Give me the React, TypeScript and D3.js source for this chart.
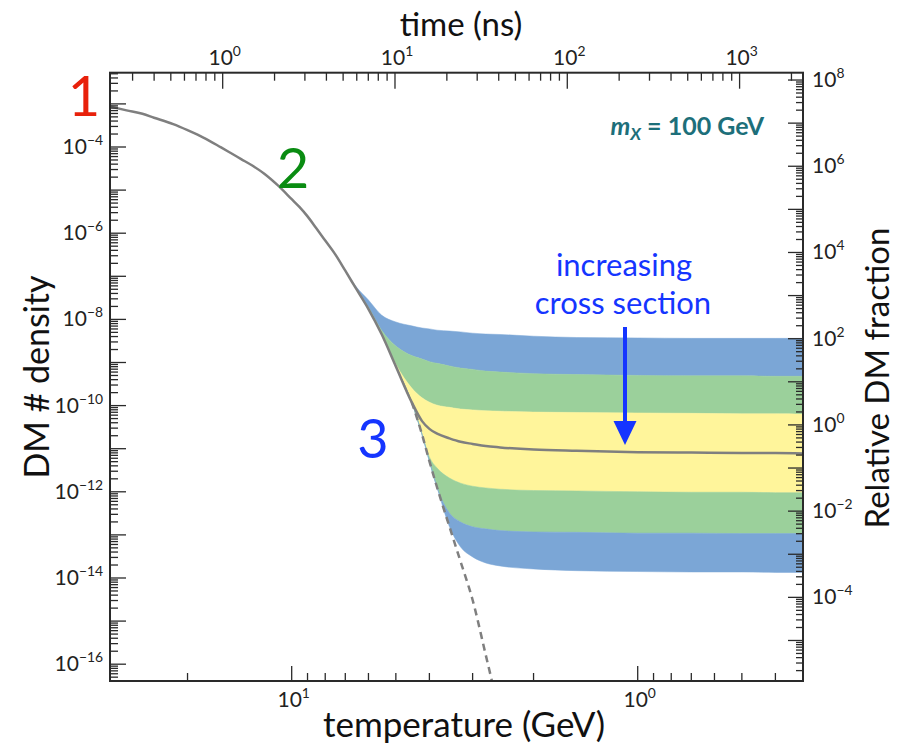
import * as d3 from "d3";

// temperature grid (GeV), read left to right off the bottom axis
const TEMP = [34, 30, 27, 25, 22, 20, 18, 16, 15, 14, 13, 12, 11, 10, 9.5, 9, 8.5, 8, 7.5, 7,
  6.5, 6, 5.5, 5, 4.5, 4.2, 4, 3.8, 3.5, 3.25, 3, 2.75, 2.5, 2, 1.5, 1, 0.7, 0.5, 0.4, 0.33];

// equilibrium density (log10), T = 34 .. 2.5
const EQUILIBRIUM = [-3.05, -3.15, -3.23, -3.32, -3.47, -3.61, -3.78, -4.01, -4.14, -4.28,
  -4.43, -4.62, -4.88, -5.21, -5.39, -5.61, -5.88, -6.17, -6.48, -6.87, -7.30, -7.76, -8.34,
  -9.09, -9.92, -10.67, -11.29, -11.90, -12.81, -13.62, -14.51, -15.78, -17.18];

// freeze-out curves (log10 density) for T = 7 .. 0.33, smallest to largest cross section
const TEMP_LATE = TEMP.slice(19);
const BLUE_TOP = [-6.87, -7.25, -7.55, -7.90, -8.06, -8.15, -8.20, -8.22, -8.25, -8.27, -8.29,
  -8.32, -8.34, -8.35, -8.39, -8.42, -8.43, -8.44, -8.44, -8.44, -8.44];
const BLUE_GREEN = [-6.87, -7.30, -7.72, -8.25, -8.62, -8.84, -8.92, -8.98, -9.02, -9.08, -9.13,
  -9.16, -9.20, -9.22, -9.26, -9.28, -9.30, -9.31, -9.31, -9.32, -9.32];
const GREEN_YELLOW = [-6.87, -7.30, -7.76, -8.34, -9.04, -9.59, -9.82, -9.92, -9.99, -10.04,
  -10.08, -10.10, -10.12, -10.13, -10.15, -10.16, -10.17, -10.18, -10.19, -10.19, -10.20];
const CENTRAL = [-6.87, -7.30, -7.76, -8.34, -9.09, -9.92, -10.36, -10.54, -10.65, -10.76,
  -10.84, -10.89, -10.94, -10.97, -11.02, -11.05, -11.08, -11.09, -11.10, -11.10, -11.11];
const YELLOW_GREEN = [-6.87, -7.30, -7.76, -8.34, -9.09, -9.92, -10.67, -11.19, -11.45, -11.68,
  -11.80, -11.87, -11.91, -11.94, -11.97, -11.98, -12.00, -12.01, -12.01, -12.02, -12.02];
const GREEN_BLUE = [-6.87, -7.30, -7.76, -8.34, -9.09, -9.92, -10.67, -11.29, -11.90, -12.49,
  -12.70, -12.81, -12.86, -12.90, -12.93, -12.94, -12.96, -12.96, -12.97, -12.97, -12.97];
const BLUE_BOTTOM = [-6.87, -7.30, -7.76, -8.34, -9.09, -9.92, -10.67, -11.29, -11.90, -12.81,
  -13.28, -13.51, -13.65, -13.72, -13.79, -13.83, -13.85, -13.86, -13.86, -13.87, -13.87];

// tick labels (exponents)
const DENSITY_LABELS = [-4, -6, -8, -10, -12, -14, -16];
const FRACTION_LABELS = [8, 6, 4, 2, 0, -2, -4];
const TEMP_LABELS = [1, 0];
const TIME_LABELS = [0, 1, 2, 3];

const FONT = "Lato, 'Open Sans', sans-serif";
const BLUE = "#7ba6d6";
const GREEN = "#9bd09b";
const YELLOW = "#fff59b";

function logTicks(domain: number[], maxValue = Infinity) {
  const [a, b] = d3.extent(domain) as [number, number];
  const out: { v: number; major: boolean }[] = [];
  for (let k = Math.floor(Math.log10(a)); k <= Math.ceil(Math.log10(b)); k++) {
    for (let m = 1; m <= 9; m++) {
      const v = m * Math.pow(10, k);
      if (v >= a && v <= b && v < maxValue) out.push({ v, major: m === 1 });
    }
  }
  return out;
}

function Pow({ x, y, exp, anchor, size = 21 }: { x: number; y: number; exp: number; anchor: string; size?: number }) {
  return (
    <text x={x} y={y} textAnchor={anchor} fontSize={size} fill="#222" fontFamily={FONT}>
      10<tspan dy={-9} fontSize={size * 0.66}>{exp < 0 ? "\u2212" + -exp : exp}</tspan>
    </text>
  );
}

export default function App() {
  const W = 900, H = 748;
  const L = 110, R = 803, T = 72.7, B = 681;

  const x = d3.scaleLog().domain([10 ** 1.5251, 10 ** -0.4777]).range([L, R]);
  const xTime = d3.scaleLog().domain([10 ** -0.654, 10 ** 3.368]).range([L, R]);
  const y = d3.scaleLog().domain([10 ** -16.39, 10 ** -2.276]).range([B, T]);
  const yRel = d3.scaleLog().domain([10 ** -5.94, 10 ** 8.17]).range([B, T]);

  const area = d3.area<number>()
    .x((_, i) => x(TEMP_LATE[i]))
    .curve(d3.curveMonotoneX);

  const band = (upper: number[], lower: number[]) =>
    area.y0((_, i) => y(10 ** lower[i])).y1((_, i) => y(10 ** upper[i]))(TEMP_LATE.map((_, i) => i)) || "";

  const line = d3.line<[number, number]>()
    .x(d => x(d[0]))
    .y(d => y(10 ** d[1]))
    .curve(d3.curveMonotoneX);

  const solidPts: [number, number][] = [
    ...TEMP.slice(0, 25).map((t, i) => [t, EQUILIBRIUM[i]] as [number, number]),
    ...TEMP_LATE.slice(6).map((t, i) => [t, CENTRAL[i + 6]] as [number, number]),
  ];
  const dashedPts: [number, number][] = TEMP.slice(24, 33).map((t, i) => [t, EQUILIBRIUM[i + 24]]);

  const bands = [
    [BLUE_TOP, BLUE_GREEN, BLUE],
    [BLUE_GREEN, GREEN_YELLOW, GREEN],
    [GREEN_YELLOW, YELLOW_GREEN, YELLOW],
    [YELLOW_GREEN, GREEN_BLUE, GREEN],
    [GREEN_BLUE, BLUE_BOTTOM, BLUE],
  ] as [number[], number[], string][];

  const axisColor = "#2a2a2a";

  return (
    <svg width={W} height={H} style={{ position: "absolute", left: 0, top: 0, background: "#fff" }}>
      <defs>
        <clipPath id="plot">
          <rect x={L} y={T} width={R - L} height={B - T} />
        </clipPath>
      </defs>

      <g clipPath="url(#plot)">
        {bands.map(([u, l, c], i) => (
          <path key={i} d={band(u, l)} fill={c} stroke={c} strokeWidth={0.5} />
        ))}
        <path d={line(solidPts) || ""} fill="none" stroke="#7f7f7f" strokeWidth={2.5} />
        <path d={line(dashedPts) || ""} fill="none" stroke="#7f7f7f" strokeWidth={2.5} strokeDasharray="7 5" />
      </g>

      {/* left axis ticks */}
      {logTicks(y.domain()).map((t, i) => (
        <line key={"l" + i} x1={L} x2={L + (t.major ? 16 : 8)} y1={y(t.v)} y2={y(t.v)} stroke={axisColor} strokeWidth={1.3} />
      ))}
      {/* right axis ticks */}
      {logTicks(yRel.domain()).map((t, i) => (
        <line key={"r" + i} x1={R} x2={R - (t.major ? 15 : 7)} y1={yRel(t.v)} y2={yRel(t.v)} stroke={axisColor} strokeWidth={1.3} />
      ))}
      {/* top axis ticks */}
      {logTicks(xTime.domain()).map((t, i) => (
        <line key={"t" + i} x1={xTime(t.v)} x2={xTime(t.v)} y1={T} y2={T + (t.major ? 16 : 8)} stroke={axisColor} strokeWidth={1.3} />
      ))}
      {/* bottom axis ticks */}
      {logTicks(x.domain(), 25).map((t, i) => (
        <line key={"b" + i} x1={x(t.v)} x2={x(t.v)} y1={B} y2={B - (t.major ? 15 : 8)} stroke={axisColor} strokeWidth={1.3} />
      ))}

      <rect x={L} y={T} width={R - L} height={B - T} fill="none" stroke={axisColor} strokeWidth={2} />

      {DENSITY_LABELS.map(e => (
        <Pow key={"dl" + e} x={103} y={y(10 ** e) + 7} exp={e} anchor="end" />
      ))}
      {FRACTION_LABELS.map(e => (
        <Pow key={"fl" + e} x={812} y={yRel(10 ** e) + 7} exp={e} anchor="start" />
      ))}
      {TEMP_LABELS.map(e => (
        <Pow key={"tl" + e} x={x(10 ** e) + 2} y={707} exp={e} anchor="middle" />
      ))}
      {TIME_LABELS.map(e => (
        <Pow key={"ti" + e} x={xTime(10 ** e) + 2} y={65} exp={e} anchor="middle" />
      ))}

      {/* axis titles */}
      <text x={461} y={36} textAnchor="middle" fontSize={33} fontFamily={FONT} fill="#111">time (ns)</text>
      <text x={464} y={737} textAnchor="middle" fontSize={35} fontFamily={FONT} fill="#111">temperature (GeV)</text>
      <text transform="translate(49,377) rotate(-90)" textAnchor="middle" fontSize={34} fontFamily={FONT} fill="#111">DM # density</text>
      <text transform="translate(889,378) rotate(-90)" textAnchor="middle" fontSize={33} fontFamily={FONT} fill="#111">Relative DM fraction</text>

      {/* region markers */}
      <text x={84} y={116} textAnchor="middle" fontSize={56} fontFamily={FONT} fill="#e8210b">1</text>
      <text x={293} y={188} textAnchor="middle" fontSize={56} fontFamily={FONT} fill="#0a8c12">2</text>
      <text x={373} y={458} textAnchor="middle" fontSize={54} fontFamily={FONT} fill="#1535ff">3</text>

      <text x={764} y={135} textAnchor="end" fontSize={25} fontWeight="bold" fontFamily={FONT} fill="#1d6f7a">
        <tspan fontStyle="italic">m</tspan>
        <tspan fontStyle="italic" fontSize={17} dy={5}>X</tspan>
        <tspan dy={-5}> = 100 GeV</tspan>
      </text>

      <text x={624} y={276} textAnchor="middle" fontSize={31} fontFamily={FONT} fill="#1535ff">increasing</text>
      <text x={623} y={314} textAnchor="middle" fontSize={31} fontFamily={FONT} fill="#1535ff">cross section</text>
      <line x1={625} x2={625} y1={327} y2={426} stroke="#1535ff" strokeWidth={4} />
      <polygon points="613.5,421 636.5,421 625,445" fill="#1535ff" />
    </svg>
  );
}
